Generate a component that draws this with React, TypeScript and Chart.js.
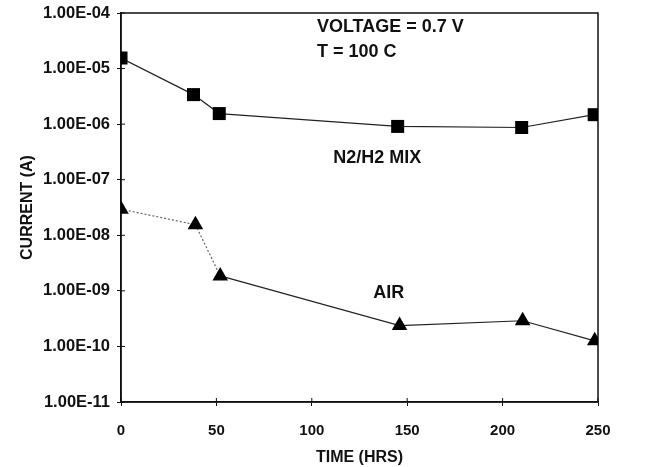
import React, { useEffect, useRef } from 'react';
import { Chart, registerables } from 'chart.js';

Chart.register(...registerables);

// N2/H2 MIX series
const hoursN2 = [0, 38, 51.5, 145, 210, 248];
const currentN2 = [1.55e-5, 3.4e-6, 1.55e-6, 9.1e-7, 8.7e-7, 1.48e-6];
// AIR series
const hoursAir = [0, 39, 52, 146, 210.5, 248.3];
const currentAir = [2.95e-8, 1.55e-8, 1.86e-9, 2.37e-10, 2.9e-10, 1.26e-10];

const yTicks = [1e-11, 1e-10, 1e-9, 1e-8, 1e-7, 1e-6, 1e-5, 1e-4];
const xTicks = [0, 50, 100, 150, 200, 250];

const noteTexts = ['VOLTAGE = 0.7 V', 'T = 100 C', 'N2/H2 MIX', 'AIR'];
const noteX = [102.7, 102.7, 111.2, 132.2];
const noteY = [5.6e-5, 1.95e-5, 2.5e-7, 9.3e-10];

const FONT = '"Liberation Sans", Arial, sans-serif';

function fmtExp(v: number): string {
  const e = Math.round(Math.log10(v));
  const sign = e < 0 ? '-' : '+';
  return '1.00E' + sign + String(Math.abs(e)).padStart(2, '0');
}

const notesPlugin = {
  id: 'notes',
  beforeDatasetsDraw(chart: any) {
    const { ctx, chartArea } = chart;
    ctx.save();
    ctx.strokeStyle = '#111';
    ctx.lineWidth = 1.5;
    ctx.strokeRect(chartArea.left, chartArea.top, chartArea.right - chartArea.left, chartArea.bottom - chartArea.top);
    // small inner tick marks so ticks cross the axes
    const xs = chart.scales.x;
    const ys = chart.scales.y;
    ctx.lineWidth = 1;
    ctx.beginPath();
    xTicks.forEach((v) => {
      const px = xs.getPixelForValue(v);
      ctx.moveTo(px, chartArea.bottom);
      ctx.lineTo(px, chartArea.bottom - 4);
    });
    yTicks.forEach((v) => {
      const py = ys.getPixelForValue(v);
      ctx.moveTo(chartArea.left, py);
      ctx.lineTo(chartArea.left + 4, py);
    });
    ctx.stroke();
    ctx.restore();
  },
  afterDraw(chart: any) {
    const { ctx } = chart;
    const xs = chart.scales.x;
    const ys = chart.scales.y;
    ctx.save();
    ctx.fillStyle = '#111';
    ctx.font = 'bold 18px ' + FONT;
    ctx.textAlign = 'left';
    ctx.textBaseline = 'middle';
    noteTexts.forEach((t, i) => {
      ctx.fillText(t, xs.getPixelForValue(noteX[i]), ys.getPixelForValue(noteY[i]));
    });
    ctx.restore();
  },
};

export default function App() {
  const ref = useRef<HTMLCanvasElement>(null);
  useEffect(() => {
    document.body.style.margin = '0';
    const canvas = ref.current!;
    const chart = new Chart(canvas, {
      type: 'line',
      data: {
        datasets: [
          {
            label: 'N2/H2 MIX',
            data: hoursN2.map((h, i) => ({ x: h, y: currentN2[i] })),
            borderColor: '#222',
            borderWidth: 1.2,
            pointStyle: 'rect',
            pointRadius: 9.2,
            pointBackgroundColor: '#000',
            pointBorderColor: '#000',
            pointBorderWidth: 0,
            fill: false,
            tension: 0,
          },
          {
            label: 'AIR',
            data: hoursAir.map((h, i) => ({ x: h, y: currentAir[i] })),
            borderColor: '#222',
            borderWidth: 1.2,
            pointStyle: 'triangle',
            pointRadius: 9,
            pointBackgroundColor: '#000',
            pointBorderColor: '#000',
            pointBorderWidth: 0,
            fill: false,
            tension: 0,
            segment: {
              borderDash: (c: any) => (c.p1DataIndex <= 2 ? [2, 2] : undefined),
              borderColor: (c: any) => (c.p1DataIndex <= 2 ? '#666' : '#222'),
            },
          },
        ],
      },
      options: {
        responsive: false,
        animation: false,
        layout: { padding: { top: 13, right: 52, left: 0, bottom: 0 } },
        plugins: { legend: { display: false }, tooltip: { enabled: false } },
        scales: {
          x: {
            type: 'linear',
            min: 0,
            max: 250,
            afterBuildTicks: (s: any) => {
              s.ticks = xTicks.map((v) => ({ value: v }));
            },
            afterFit: (s: any) => {
              s.height = 65;
            },
            grid: { display: true, drawOnChartArea: false, tickLength: 4, color: '#111' },
            border: { color: '#111', width: 1.5 },
            ticks: {
              color: '#111',
              padding: 16,
              font: { family: FONT, weight: 'bold', size: 15 },
            },
            title: {
              display: true,
              text: 'TIME (HRS)',
              color: '#111',
              font: { family: FONT, weight: 'bold', size: 16 },
              padding: { top: 0, bottom: 0 },
            },
          },
          y: {
            type: 'logarithmic',
            min: 1e-11,
            max: 1e-4,
            afterBuildTicks: (s: any) => {
              s.ticks = yTicks.map((v) => ({ value: v }));
            },
            afterFit: (s: any) => {
              s.width = 121;
              s.paddingTop = 0;
              s.paddingBottom = 0;
            },
            grid: { display: true, drawOnChartArea: false, tickLength: 4, color: '#111' },
            border: { color: '#111', width: 1.5 },
            ticks: {
              color: '#111',
              padding: 7,
              font: { family: FONT, weight: 'bold', size: 16.5 },
              callback: (v: any) => fmtExp(Number(v)),
            },
            title: {
              display: true,
              text: 'CURRENT (A)',
              color: '#111',
              font: { family: FONT, weight: 'bold', size: 16 },
              padding: { top: 18, bottom: 0 },
            },
          },
        },
      },
      plugins: [notesPlugin],
    } as any);
    return () => chart.destroy();
  }, []);
  return (
    <div style={{ width: 650, height: 467 }}>
      <canvas ref={ref} width={650} height={467} style={{ display: 'block' }} />
    </div>
  );
}
